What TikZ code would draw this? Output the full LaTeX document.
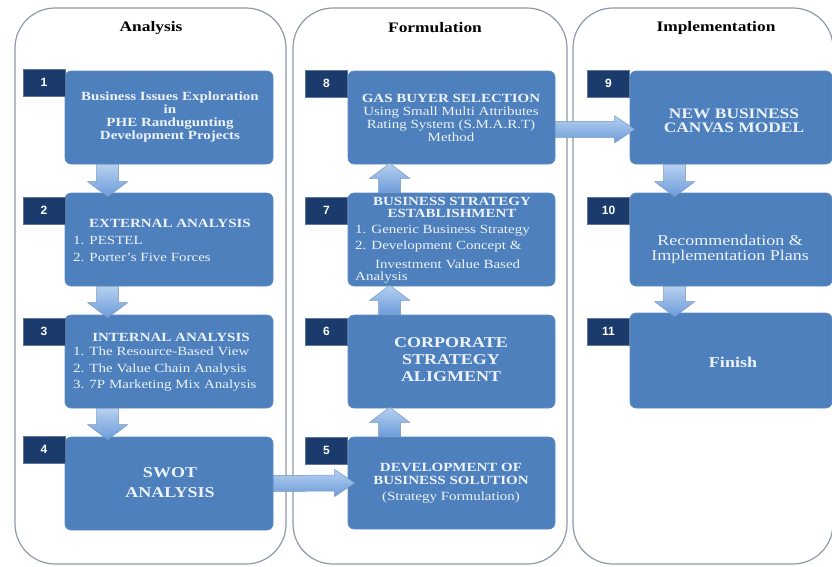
\documentclass[tikz,border=0pt]{standalone}
\usepackage{fontspec}
\setmainfont{Liberation Serif}[FakeStretch=1.2]
\newfontfamily\tagfont{Liberation Sans}
\usetikzlibrary{calc}

\definecolor{boxblue}{HTML}{4D80BC}
\definecolor{boxedge}{HTML}{5C8CC6}
\definecolor{tagnavy}{HTML}{1B3B6C}
\definecolor{boxtext}{HTML}{EEF3FA}
\definecolor{arrowtop}{HTML}{B6D0F0}
\definecolor{arrowbot}{HTML}{6C9CDA}
\definecolor{arrowedge}{HTML}{7896C0}
\definecolor{panelgray}{HTML}{8E99AA}

\newcommand{\fsz}[2]{\fontsize{#1}{#2}\selectfont}

% block arrows between two named points (tip at the second one)
\newcommand{\blkdown}[2]{%
  \draw[blk] ($(#1)+(-11,0)$) -- ($(#2)+(-11,-15)$) -- ($(#2)+(-20,-15)$) -- (#2)
    -- ($(#2)+(20,-15)$) -- ($(#2)+(11,-15)$) -- ($(#1)+(11,0)$) -- cycle;}
\newcommand{\blkup}[2]{%
  \draw[blk] ($(#1)+(-11,0)$) -- ($(#2)+(-11,15)$) -- ($(#2)+(-20,15)$) -- (#2)
    -- ($(#2)+(20,15)$) -- ($(#2)+(11,15)$) -- ($(#1)+(11,0)$) -- cycle;}
\newcommand{\blkright}[2]{%
  \draw[blk] ($(#1)+(0,-8)$) -- ($(#2)+(-20,-8)$) -- ($(#2)+(-20,-13.5)$) -- (#2)
    -- ($(#2)+(-20,13.5)$) -- ($(#2)+(-20,8)$) -- ($(#1)+(0,8)$) -- cycle;}

\begin{document}
\begin{tikzpicture}[x=1pt,y=-1pt,
  panel/.style={draw=panelgray, line width=1.2pt, rounded corners=40pt, fill=white, inner sep=0pt},
  stage/.style={draw=boxedge, fill=boxblue, rounded corners=6pt, line width=0.6pt, inner sep=0pt},
  tag/.style={fill=tagnavy, draw=tagnavy!70!white, line width=0.4pt, text=white,
    font=\tagfont\bfseries\fsz{12}{12}, inner sep=0pt, minimum width=42pt, minimum height=27pt},
  txt/.style={text=boxtext, inner sep=0pt, align=center},
  lst/.style={text=boxtext, inner sep=0pt, align=left, anchor=west},
  head/.style={font=\bfseries\fsz{14.5}{16}, text=black, inner sep=0pt},
  blk/.style={draw=arrowedge, line width=0.5pt, top color=arrowtop, bottom color=arrowbot}
]
\useasboundingbox (0,0) rectangle (832,566);
\fill[white] (0,0) rectangle (832,566);

% three phase panels
\node[panel, minimum width=271pt, minimum height=556pt] (pA) at (150.5,286) {};
\node[panel, minimum width=274pt, minimum height=556pt] (pF) at (430,286) {};
\node[panel, minimum width=260pt, minimum height=556pt] (pI) at (703,286) {};
\node[head] (hA) at (151,28) {Analysis};
\node[head] (hF) at (435,28) {Formulation};
\node[head] (hI) at (716,28) {Implementation};

% stage boxes
\node[stage, minimum width=208pt, minimum height=93pt] (b1) at (169,117.5) {};
\node[stage, minimum width=208pt, minimum height=93pt] (b2) at (169,239.5) {};
\node[stage, minimum width=208pt, minimum height=93pt] (b3) at (169,361.5) {};
\node[stage, minimum width=208pt, minimum height=93pt] (b4) at (169,483.5) {};
\node[stage, minimum width=207pt, minimum height=93pt] (b8) at (451.5,117.5) {};
\node[stage, minimum width=207pt, minimum height=93pt] (b7) at (451.5,239.5) {};
\node[stage, minimum width=207pt, minimum height=93pt] (b6) at (451.5,361.5) {};
\node[stage, minimum width=207pt, minimum height=92pt] (b5) at (451.5,483) {};
\node[stage, minimum width=202pt, minimum height=93pt] (b9) at (731,117.5) {};
\node[stage, minimum width=202pt, minimum height=93pt] (b10) at (731,239.5) {};
\node[stage, minimum width=202pt, minimum height=95pt] (b11) at (731,360.5) {};

% number tags
\node[tag] (n1) at (44,82.5) {1};
\node[tag] (n2) at (44,210.5) {2};
\node[tag] (n3) at (44,331.5) {3};
\node[tag] (n4) at (44,449.5) {4};
\node[tag] (n8) at (326.5,83.5) {8};
\node[tag] (n7) at (326.5,210.5) {7};
\node[tag] (n6) at (326.5,331.5) {6};
\node[tag] (n5) at (326.5,450.5) {5};
\node[tag] (n9) at (608.5,83.5) {9};
\node[tag] (n10) at (608.5,210.5) {10};
\node[tag] (n11) at (608.5,331.5) {11};

% box texts
\node[txt, font=\bfseries\fsz{12.5}{13.3}] (t1) at (170,117)
  {Business Issues Exploration\\in\\PHE Randugunting\\Development Projects};
\node[txt, font=\bfseries\fsz{12.5}{14}] (t2h) at (170,223) {EXTERNAL ANALYSIS};
\node[lst, font=\fsz{12.5}{17}] (t2l) at (73,248.5) {1. PESTEL\\2. Porter’s Five Forces};
\node[txt, font=\bfseries\fsz{12.5}{14}] (t3h) at (171,337) {INTERNAL ANALYSIS};
\node[lst, font=\fsz{12.5}{16.5}] (t3l) at (73,369.5)
  {1. The Resource-Based View\\2. The Value Chain Analysis\\3. 7P Marketing Mix Analysis};
\node[txt, font=\bfseries\fsz{15}{20}] (t4) at (170,483) {SWOT\\ANALYSIS};

\node[txt, font=\fsz{12.5}{12.8}] (t8) at (451,118)
  {\textbf{GAS BUYER SELECTION}\\Using Small Multi Attributes\\Rating System (S.M.A.R.T)\\Method};
\node[txt, font=\bfseries\fsz{12.5}{11.5}] (t7h) at (452,207.5) {BUSINESS STRATEGY\\ESTABLISHMENT};
\node[lst, font=\fsz{12.5}{16}] (t7a) at (355,239) {1. Generic Business Strategy\\2. Development Concept \&};
\node[lst, font=\fsz{12.5}{12}] (t7b) at (375,264.5) {Investment Value Based};
\node[lst, font=\fsz{12.5}{12}] (t7c) at (355,277.5) {Analysis};
\node[txt, font=\bfseries\fsz{15}{17}] (t6) at (451,360) {CORPORATE\\STRATEGY\\ALIGMENT};
\node[txt, font=\bfseries\fsz{12.5}{13}] (t5) at (451,483)
  {DEVELOPMENT OF\\BUSINESS SOLUTION\\[3pt]{\mdseries (Strategy Formulation)}};

\node[txt, font=\bfseries\fsz{14.5}{13.5}] (t9) at (734,121) {NEW BUSINESS\\CANVAS MODEL};
\node[txt, font=\fsz{15}{15}] (t10) at (730,249) {Recommendation \&\\Implementation Plans};
\node[txt, font=\bfseries\fsz{15}{15}] (t11) at (733,362) {Finish};

% flow arrows
\blkdown{$(b1.south west)+(43,0)$}{$(b2.north west)+(43,4)$}
\blkdown{$(b2.south west)+(43,0)$}{$(b3.north west)+(43,3)$}
\blkdown{$(b3.south west)+(43,0)$}{$(b4.north west)+(43,3)$}
\blkright{b4.east}{$(b5.west)+(7,0)$}
\blkup{$(b5.north west)+(42,0)$}{$(b6.south west)+(42,-1)$}
\blkup{$(b6.north west)+(42,0)$}{$(b7.south west)+(42,-1)$}
\blkup{$(b7.north west)+(42,0)$}{$(b8.south west)+(42,-1)$}
\blkright{$(b8.south east)+(0,-35)$}{$(b9.south west)+(5,-35)$}
\blkdown{$(b9.south west)+(45,0)$}{$(b10.north west)+(45,4)$}
\blkdown{$(b10.south west)+(45,0)$}{$(b11.north west)+(45,4)$}
\end{tikzpicture}
\end{document}
